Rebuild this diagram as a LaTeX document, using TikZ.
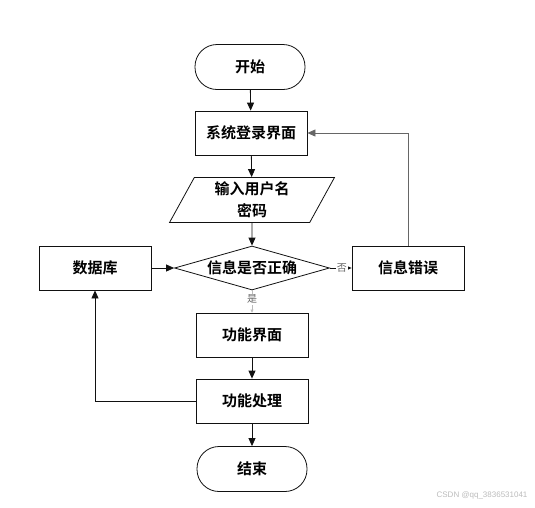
\documentclass[tikz,border=0pt]{standalone}
\usepackage{fontspec}
\usepackage{tikz}
\usetikzlibrary{positioning,arrows.meta,shapes.geometric}
\newfontfamily\cjk{Noto Sans CJK SC}[BoldFont={Noto Sans CJK SC Bold}]
\newfontfamily\wmfont{Liberation Sans}
\definecolor{ink}   {HTML}{111111}
\definecolor{grey500}{HTML}{666666}
\definecolor{grey300}{HTML}{BBBBBB}
\tikzset{
  term/.style  ={draw=ink, line width=0.8pt, fill=white,
                 rounded corners=22pt, minimum width=110pt,
                 minimum height=45pt, inner sep=0pt,
                 font=\cjk\bfseries\fontsize{15}{17}\selectfont},
  proc/.style  ={draw=ink, line width=0.8pt, fill=white,
                 minimum width=112pt, minimum height=44pt, inner sep=0pt,
                 font=\cjk\bfseries\fontsize{15}{17}\selectfont},
  io/.style    ={draw=ink, line width=0.8pt, fill=white, trapezium,
                 trapezium left angle=66, trapezium right angle=114,
                 trapezium stretches=true, minimum width=165pt,
                 minimum height=45pt, inner sep=0pt, align=center,
                 font=\cjk\bfseries\fontsize{15}{22}\selectfont},
  dec/.style   ={draw=ink, line width=0.8pt, fill=white, diamond,
                 aspect=3.5, minimum width=155pt, minimum height=44pt,
                 inner sep=0pt, font=\cjk\bfseries\fontsize{15}{17}\selectfont},
  ar/.style    ={-{Triangle[length=8pt,width=7pt]}, draw=ink,
                 line width=0.8pt},
  arg/.style   ={-{Triangle[length=8pt,width=7pt]}, draw=grey500,
                 line width=0.8pt},
  ars/.style   ={-{Triangle[length=3pt,width=3pt]}, draw=grey300,
                 line width=0.5pt},
  tag/.style   ={font=\cjk\fontsize{10}{11}\selectfont, text=grey500,
                 fill=white, inner sep=1pt}
}
\begin{document}
\begin{tikzpicture}[x=1pt,y=-1pt]
\useasboundingbox (0,0) rectangle (535,507);
\node[term] (start) at (250,67) {开始};
\node[proc] (login) at (251,133) {系统登录界面};
\node[io]   (input) at (252,200) {输入用户名\\密码};
\node[dec]  (check) at (252,268) {信息是否正确};
\node[proc] (db)    at (95,268)  {数据库};
\node[proc] (err)   at (408,268) {信息错误};
\node[proc] (func)  at (252,335) {功能界面};
\node[proc] (work)  at (252,401) {功能处理};
\node[term] (stop)  at (252,469) {结束};
\draw[ar] (start) -- (login);
\draw[ar] (login) -- (input);
\draw[ar] (input) -- (check);
\draw[ar] (db) -- (check.west);
\draw[ar] (check.east) -- node[tag,pos=0.55]{否} (err.west);
\draw[ars] (check.south) -- node[tag,pos=0.4]{是} (func.north);
\draw[ar] (func) -- (work);
\draw[ar] (work) -- (stop);
\draw[arg] (err.north) |- (login.east);
\draw[ar] (work.west) -| (db.south);
\node[font=\wmfont\fontsize{8}{9}\selectfont, text=grey300, anchor=east]
  (mark) at (531,495) {CSDN @qq\_3836531041};
\end{tikzpicture}
\end{document}
